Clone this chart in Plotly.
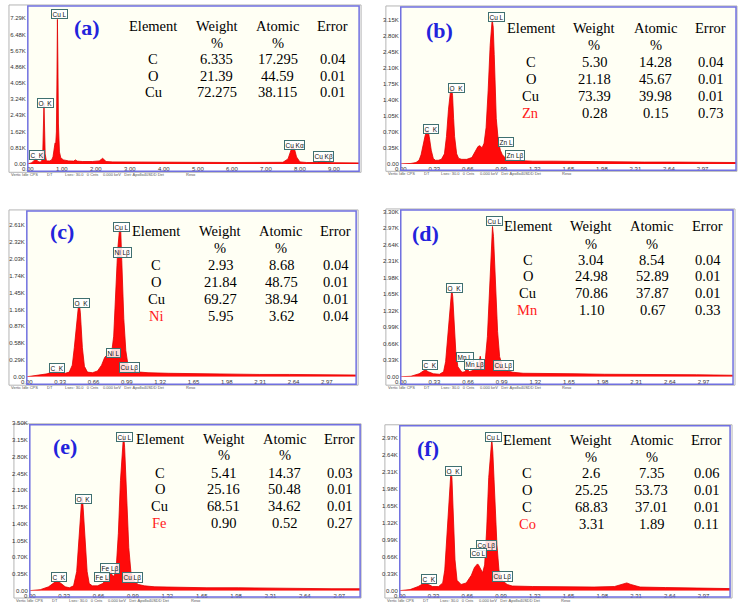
import plotly.graph_objects as go

W, H = 738, 607

# ---------------- spectra data (keV, kilo-counts) ----------------
energy_a = [0, 0.1, 0.18, 0.23, 0.28, 0.33, 0.38, 0.42, 0.44, 0.46, 0.475, 0.49, 0.51, 0.54, 0.58, 0.64, 0.70, 0.74,
            0.77, 0.80, 0.82, 0.84, 0.855, 0.87, 0.885, 0.90, 0.93, 0.97, 1.05, 1.2, 1.35, 1.4, 1.45, 1.6, 1.9, 2.1,
            2.2, 2.3, 2.5, 3.0, 4.0, 5.0, 6.0, 7.0, 7.5, 7.65, 7.72, 7.78, 7.84, 7.9, 8.0, 8.2, 8.5, 8.58, 8.65,
            8.72, 8.8, 9.0, 9.74]
counts_a = [0, 0.05, 0.15, 0.3, 0.15, 0.1, 0.1, 0.2, 0.6, 1.8, 3.05, 2.0, 0.5, 0.2, 0.15, 0.15, 0.2, 0.35,
            0.9, 1.05, 1.0, 1.6, 4.0, 7.24, 5.0, 2.0, 0.6, 0.3, 0.2, 0.15, 0.14, 0.2, 0.14, 0.12, 0.12, 0.15,
            0.28, 0.12, 0.1, 0.09, 0.08, 0.08, 0.07, 0.07, 0.08, 0.25, 0.6, 0.9, 0.75, 0.35, 0.1, 0.07, 0.07, 0.12,
            0.25, 0.15, 0.07, 0.06, 0.05]

energy_b = [0.00, 0.05, 0.10, 0.15, 0.18, 0.20, 0.22, 0.24, 0.26, 0.27, 0.28, 0.30, 0.32, 0.34, 0.37, 0.40, 0.43,
            0.45, 0.47, 0.49, 0.50, 0.51, 0.52, 0.53, 0.55, 0.57, 0.60, 0.65, 0.70, 0.73, 0.76, 0.78, 0.80, 0.82,
            0.84, 0.86, 0.88, 0.90, 0.91, 0.92, 0.93, 0.94, 0.96, 0.98, 1.00, 1.03, 1.07, 1.12, 1.2, 1.3, 1.5,
            1.8, 2.1, 2.4, 2.7, 3.0, 3.3]
counts_b = [0, 0, 0.01, 0.03, 0.08, 0.2, 0.4, 0.62, 0.74, 0.72, 0.6, 0.3, 0.12, 0.08, 0.08, 0.1, 0.22,
            0.6, 1.2, 1.6, 1.65, 1.5, 1.0, 0.6, 0.22, 0.12, 0.1, 0.1, 0.14, 0.25, 0.38, 0.4, 0.35, 0.45,
            0.8, 1.6, 2.6, 3.17, 3.0, 2.4, 1.6, 1.0, 0.5, 0.3, 0.2, 0.13, 0.1, 0.08, 0.07, 0.06, 0.06,
            0.05, 0.05, 0.04, 0.04, 0.04, 0.03]

energy_c = [0, 0.1, 0.2, 0.25, 0.29, 0.33, 0.38, 0.42, 0.45, 0.47, 0.49, 0.51, 0.52, 0.53, 0.55, 0.57, 0.60,
            0.65, 0.70, 0.74, 0.77, 0.79, 0.82, 0.84, 0.86, 0.88, 0.90, 0.92, 0.93, 0.94, 0.96, 0.98, 1.00,
            1.03, 1.07, 1.12, 1.2, 1.4, 1.7, 2.0, 2.3, 2.6, 2.9, 3.26]
counts_c = [0, 0.02, 0.05, 0.08, 0.1, 0.08, 0.06, 0.08, 0.2, 0.5, 0.9, 1.2, 1.26, 1.1, 0.5, 0.18, 0.08,
            0.07, 0.1, 0.2, 0.33, 0.37, 0.36, 0.42, 0.7, 1.4, 2.2, 2.58, 2.5, 2.0, 1.0, 0.45, 0.22,
            0.14, 0.1, 0.08, 0.07, 0.06, 0.05, 0.05, 0.04, 0.04, 0.03, 0.03]

energy_d = [0, 0.1, 0.18, 0.22, 0.24, 0.27, 0.32, 0.38, 0.42, 0.44, 0.46, 0.48, 0.50, 0.51, 0.52, 0.54, 0.56,
            0.60, 0.63, 0.65, 0.67, 0.70, 0.74, 0.77, 0.78, 0.79, 0.81, 0.83, 0.85, 0.87, 0.89, 0.90, 0.91,
            0.93, 0.95, 0.97, 1.00, 1.04, 1.1, 1.2, 1.4, 1.7, 2.0, 2.3, 2.6, 2.9, 3.26]
counts_d = [0, 0.01, 0.06, 0.12, 0.14, 0.1, 0.06, 0.05, 0.1, 0.3, 0.8, 1.4, 1.74, 1.6, 1.2, 0.5, 0.2,
            0.09, 0.1, 0.18, 0.1, 0.12, 0.2, 0.3, 0.41, 0.3, 0.25, 0.35, 0.8, 1.8, 2.7, 3.0, 2.8,
            1.8, 0.9, 0.4, 0.2, 0.12, 0.09, 0.07, 0.06, 0.06, 0.05, 0.05, 0.04, 0.04, 0.03]

energy_e = [0, 0.1, 0.18, 0.22, 0.26, 0.30, 0.34, 0.38, 0.42, 0.45, 0.47, 0.49, 0.50, 0.51, 0.53, 0.55, 0.57,
            0.60, 0.65, 0.70, 0.74, 0.77, 0.78, 0.79, 0.81, 0.83, 0.85, 0.87, 0.89, 0.90, 0.91, 0.93, 0.95,
            0.97, 1.00, 1.04, 1.1, 1.2, 1.4, 1.7, 2.0, 2.3, 2.6, 2.9, 3.17]
counts_e = [0, 0.02, 0.08, 0.15, 0.21, 0.15, 0.08, 0.06, 0.1, 0.4, 1.1, 1.8, 1.97, 1.8, 1.0, 0.4, 0.15,
            0.1, 0.1, 0.15, 0.25, 0.35, 0.41, 0.32, 0.3, 0.5, 1.2, 2.3, 3.1, 3.27, 3.0, 2.0, 0.9,
            0.4, 0.2, 0.13, 0.1, 0.08, 0.07, 0.06, 0.06, 0.05, 0.05, 0.04, 0.04]

energy_f = [0, 0.1, 0.18, 0.22, 0.25, 0.28, 0.32, 0.38, 0.42, 0.44, 0.46, 0.48, 0.50, 0.51, 0.52, 0.54, 0.56,
            0.60, 0.65, 0.70, 0.73, 0.76, 0.77, 0.79, 0.81, 0.83, 0.85, 0.87, 0.89, 0.90, 0.91, 0.93, 0.95,
            0.97, 1.00, 1.05, 1.1, 1.3, 1.6, 1.9, 2.1, 2.18, 2.22, 2.26, 2.35, 2.6, 2.9, 3.23]
counts_f = [0, 0.02, 0.08, 0.13, 0.16, 0.12, 0.08, 0.08, 0.15, 0.4, 1.0, 1.8, 2.31, 2.2, 1.6, 0.6, 0.2,
            0.12, 0.15, 0.3, 0.45, 0.52, 0.5, 0.42, 0.35, 0.5, 1.2, 2.2, 2.8, 2.95, 2.7, 1.8, 0.9,
            0.4, 0.2, 0.12, 0.09, 0.08, 0.07, 0.07, 0.08, 0.12, 0.15, 0.12, 0.07, 0.06, 0.05, 0.04]

# axis tick values
ytick_step = {"a": 0.81, "b": 0.35, "c": 0.29, "d": 0.33, "e": 0.35, "f": 0.33}
ytick_count = {"a": 10, "b": 10, "c": 10, "d": 11, "e": 11, "f": 10}
xticks_a = [0, 1, 2, 3, 4, 5, 6, 7, 8, 9]
xticks_bf = [0, 0.33, 0.66, 0.99, 1.32, 1.65, 1.98, 2.31, 2.64, 2.97]

# composition tables
elements = {"a": ["C", "O", "Cu"], "b": ["C", "O", "Cu", "Zn"], "c": ["C", "O", "Cu", "Ni"],
            "d": ["C", "O", "Cu", "Mn"], "e": ["C", "O", "Cu", "Fe"], "f": ["C", "O", "C", "Co"]}
weight = {"a": ["6.335", "21.39", "72.275"], "b": ["5.30", "21.18", "73.39", "0.28"],
          "c": ["2.93", "21.84", "69.27", "5.95"], "d": ["3.04", "24.98", "70.86", "1.10"],
          "e": ["5.41", "25.16", "68.51", "0.90"], "f": ["2.6", "25.25", "68.83", "3.31"]}
atomic = {"a": ["17.295", "44.59", "38.115"], "b": ["14.28", "45.67", "39.98", "0.15"],
          "c": ["8.68", "48.75", "38.94", "3.62"], "d": ["8.54", "52.89", "37.87", "0.67"],
          "e": ["14.37", "50.48", "34.62", "0.52"], "f": ["7.35", "53.73", "37.01", "1.89"]}
error = {"a": ["0.04", "0.01", "0.01"], "b": ["0.04", "0.01", "0.01", "0.73"],
         "c": ["0.04", "0.01", "0.01", "0.04"], "d": ["0.04", "0.01", "0.01", "0.33"],
         "e": ["0.03", "0.01", "0.01", "0.27"], "f": ["0.06", "0.01", "0.01", "0.11"]}

peak_labels = {
    "a": [("Cu L", 53.5, 11.5), ("O  K", 39.5, 101), ("C  K", 31.5, 154), ("Cu Kα", 291, 143), ("Cu Kβ", 320.5, 155)],
    "b": [("Cu L", 494.7, 14), ("O  K", 453.8, 86.3), ("C  K", 428.8, 127), ("Zn L", 503.7, 140), ("Zn Lβ", 513, 153.7)],
    "c": [("Cu L", 116.3, 226), ("Ni Lβ", 117.5, 252), ("O  K", 75.7, 303), ("Ni L", 108.8, 353),
          ("Cu Lβ", 125, 368), ("C  K", 51.3, 369)],
    "d": [("Cu L", 493, 220.5), ("O  K", 452.3, 288), ("Mn L", 463, 358), ("Mn Lβ", 472, 365),
          ("Cu Lβ", 502, 366), ("C  K", 427, 366)],
    "e": [("Cu L", 119.3, 438), ("O  K", 78, 500.5), ("Fe Lβ", 105.3, 571), ("Fe L", 97, 579.5),
          ("Cu Lβ", 127.8, 580.5), ("C  K", 53.8, 579.5)],
    "f": [("Cu L", 491.3, 438.7), ("O  K", 451, 472.8), ("Co Lβ", 484.7, 548), ("Co L", 476, 555),
          ("Cu Lβ", 500.3, 579.5), ("C  K", 426.7, 582)],
}

spectra = {"a": (energy_a, counts_a), "b": (energy_b, counts_b), "c": (energy_c, counts_c),
           "d": (energy_d, counts_d), "e": (energy_e, counts_e), "f": (energy_f, counts_f)}

# ---------------- geometry (pixels) ----------------
geom = {
    "a": dict(l=22, r=356, t=4, z=162.5, xmax=9.74, ymax=7.86, frame=(22, 3, 356, 170), gray=(3, 2, 358, 171),
              cols=[148.3, 212.3, 274, 329.5], hy=23, py=40, rows=[57, 73.5, 90], let=(81.7, 25)),
    "b": dict(l=398, r=736, t=5, z=162.5, xmax=3.30, ymax=3.42, frame=(398, 4, 736, 169), gray=(383, 3, 737, 170),
              cols=[529.3, 593.3, 655, 710.7], hy=25, py=42.7, rows=[60, 76.7, 94, 111], let=(436.7, 27.5)),
    "c": dict(l=21, r=353, t=211, z=377.5, xmax=3.26, ymax=2.84, frame=(21, 210, 353, 385), gray=(3, 209, 355, 386),
              cols=[151.7, 216, 277.7, 332.7], hy=230, py=247.7, rows=[265, 281.7, 299, 316], let=(56.7, 231)),
    "d": dict(l=398, r=733, t=210, z=377.5, xmax=3.26, ymax=3.31, frame=(398, 209, 733, 385), gray=(383, 208, 735, 386),
              cols=[526, 590, 651.7, 707.3], hy=225.7, py=243.3, rows=[259.3, 276, 293.3, 310], let=(423, 232.5)),
    "e": dict(l=24, r=357, t=424.5, z=593.5, xmax=3.17, ymax=3.50, frame=(24, 426, 357, 600), gray=(8, 425, 358, 601),
              cols=[155, 219.3, 281, 336], hy=440, py=456.7, rows=[474.3, 491, 508.3, 525], let=(59.7, 447.5)),
    "f": dict(l=397, r=730, t=428, z=593.5, xmax=3.23, ymax=3.19, frame=(397, 427, 730, 600), gray=(382, 426, 732, 601),
              cols=[525.7, 590, 651, 706.7], hy=441, py=458.3, rows=[475, 492.3, 509.3, 526.7], let=(425, 450)),
}


def px(x):
    return x / W


def py(y):
    return 1 - y / H


fig = go.Figure()
layout = dict(width=W, height=H, margin=dict(l=0, r=0, t=0, b=0), paper_bgcolor="white",
              plot_bgcolor="#fffff4", showlegend=False)
annotations = []
shapes = []

TICKFONT = dict(family="Liberation Sans", size=6, color="#333333")
SERIF = "Liberation Serif"

for i, key in enumerate(["a", "b", "c", "d", "e", "f"], start=1):
    g = geom[key]
    E, C = spectra[key]
    xa = "x" if i == 1 else f"x{i}"
    ya = "y" if i == 1 else f"y{i}"
    fig.add_trace(go.Scatter(x=E, y=C, mode="lines", fill="tozeroy", xaxis=xa, yaxis=ya,
                             line=dict(color="#e00000", width=0.8), fillcolor="#ff0a0a",
                             hoverinfo="skip"))
    step = ytick_step[key]
    yt = [round(step * k, 2) for k in range(ytick_count[key])]
    ytxt = ["0.00" if v == 0 else f"{v:.2f}K" for v in yt]
    xt = xticks_a if key == "a" else xticks_bf
    xtxt = [f"{v:.2f}" for v in xt]
    layout[f"xaxis{i}" if i > 1 else "xaxis"] = dict(
        domain=[px(g["l"]), px(g["r"])], range=[0, g["xmax"]], anchor=ya,
        showgrid=False, zeroline=False, showline=False, ticks="",
        tickvals=xt, ticktext=xtxt, tickfont=TICKFONT, ticklabelstandoff=0)
    layout[f"yaxis{i}" if i > 1 else "yaxis"] = dict(
        domain=[py(g["z"]), py(g["t"])], range=[0, g["ymax"]], anchor=xa,
        showgrid=False, zeroline=False, showline=False, ticks="",
        tickvals=yt, ticktext=ytxt, tickfont=TICKFONT, ticklabelstandoff=1)

    gl, gt, gr, gb = g["gray"]
    shapes.append(dict(type="rect", xref="paper", yref="paper", x0=px(gl), x1=px(gr), y0=py(gb), y1=py(gt),
                       line=dict(color="#b4b4b4", width=1), layer="below"))
    fl, ft, fr, fb = g["frame"]
    shapes.append(dict(type="rect", xref="paper", yref="paper", x0=px(fl), x1=px(fr), y0=py(fb), y1=py(ft),
                       line=dict(color="#7070e0", width=1.5), layer="above"))

    fy = fb + 3.5
    for txt, off in [("Vertic Idle CPS", 0), ("DT", 36), ("Lsec: 30.0   0 Cnts", 54),
                     ("0.000 keV   Det: Apollo40SDD Det", 93), ("Reso", 176)]:
        annotations.append(dict(x=px(gl + off), y=py(fy), xref="paper", yref="paper", text=txt,
                                showarrow=False, xanchor="left", yanchor="middle",
                                font=dict(family="Liberation Sans", size=4, color="#555555")))

    annotations.append(dict(x=px(g["let"][0]), y=py(g["let"][1]), xref="paper", yref="paper",
                            text=f"<b>({key})</b>", showarrow=False, xanchor="center", yanchor="middle",
                            font=dict(family=SERIF, size=22, color="#2323dc")))

    cols = g["cols"]
    for cx, txt in zip(cols, ["Element", "Weight", "Atomic", "Error"]):
        annotations.append(dict(x=px(cx), y=py(g["hy"]), xref="paper", yref="paper", text=txt,
                                showarrow=False, xanchor="center", yanchor="middle",
                                font=dict(family=SERIF, size=14.5, color="black")))
    for cx in cols[1:3]:
        annotations.append(dict(x=px(cx), y=py(g["py"]), xref="paper", yref="paper", text="%",
                                showarrow=False, xanchor="center", yanchor="middle",
                                font=dict(family=SERIF, size=14.5, color="black")))
    for r, ry in enumerate(g["rows"]):
        vals = [elements[key][r], weight[key][r], atomic[key][r], error[key][r]]
        for c, (cx, txt) in enumerate(zip(cols, vals)):
            color = "#ff1a1a" if (c == 0 and r == 3) else "black"
            annotations.append(dict(x=px(cx), y=py(ry), xref="paper", yref="paper", text=txt,
                                    showarrow=False, xanchor="center", yanchor="middle",
                                    font=dict(family=SERIF, size=14.5, color=color)))

    for txt, lx, ly in peak_labels[key]:
        annotations.append(dict(x=px(lx), y=py(ly), xref="paper", yref="paper", text=txt,
                                showarrow=False, xanchor="center", yanchor="middle",
                                font=dict(family="Liberation Sans", size=6.5, color="#111111"),
                                bordercolor="#3f7070", borderwidth=1, borderpad=0.5,
                                bgcolor="rgba(255,255,255,0.85)"))

layout["annotations"] = annotations
layout["shapes"] = shapes
fig.update_layout(**layout)
fig.write_html("out.html", config={"displayModeBar": False, "staticPlot": True})

# remove the default page margin so the figure sits at the window's top-left corner
with open("out.html", "r", encoding="utf-8") as fh:
    page = fh.read()
page = page.replace("<head>", "<head><style>html,body{margin:0;padding:0;overflow:hidden;}</style>", 1)
with open("out.html", "w", encoding="utf-8") as fh:
    fh.write(page)
